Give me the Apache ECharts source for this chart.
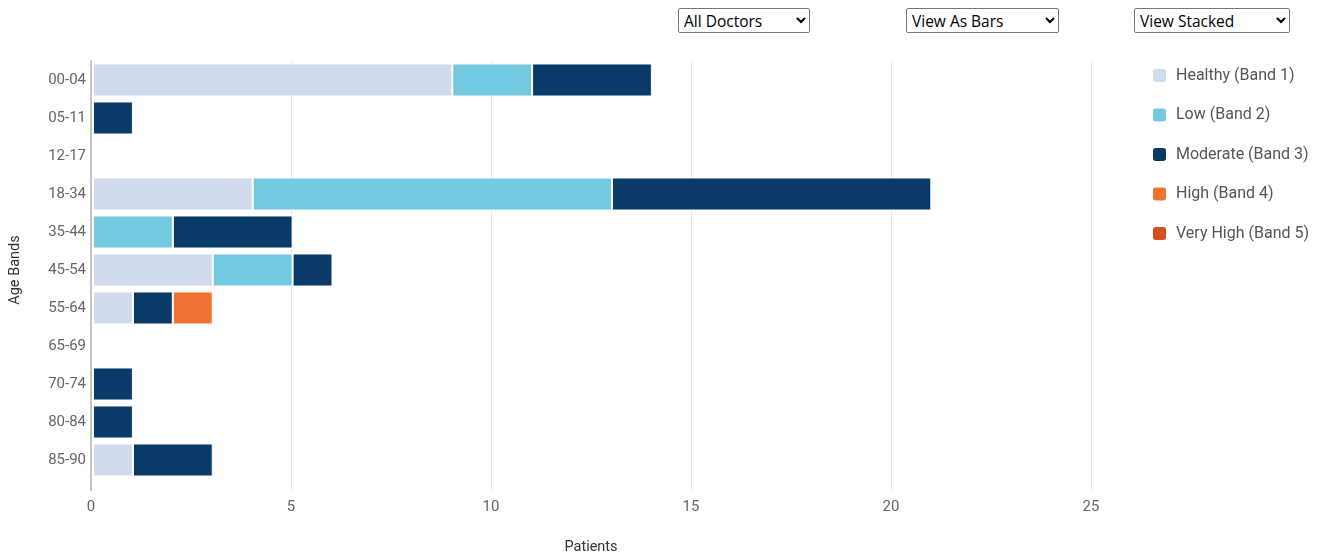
<!DOCTYPE html>
<html>
<head>
<meta charset="utf-8">
<title>Patients by Age Band</title>
<script src="https://cdn.jsdelivr.net/npm/echarts@6/dist/echarts.min.js"></script>
<style>
  html, body { margin: 0; padding: 0; background: #fff; }
  #wrap { position: relative; width: 1327px; height: 560px; }
  #chart { position: absolute; left: 0; top: 0; width: 1327px; height: 560px; }
  select {
    position: absolute; top: 8px; height: 25px;
    font-family: "Open Sans", "DejaVu Sans", sans-serif; font-size: 15.5px; color: #000;
    background: #fff; border: 1px solid #767676; border-radius: 2px; padding: 0 1px;
  }
</style>
</head>
<body>
<div id="wrap">
  <div id="chart"></div>
  <select id="doctor" style="left:678px;width:132px;"><option>All Doctors</option></select>
  <select id="view" style="left:906px;width:153px;"><option>View As Bars</option></select>
  <select id="mode" style="left:1134px;width:156px;"><option>View Stacked</option></select>
</div>
<script>
// Age bands shown top to bottom
const ageBands = ['00-04', '05-11', '12-17', '18-34', '35-44', '45-54', '55-64', '65-69', '70-74', '80-84', '85-90'];

// Patient counts per risk band, one entry per age band
const healthy  = [9, 0, 0, 4, 0, 3, 1, 0, 0, 0, 1];
const low      = [2, 0, 0, 9, 2, 2, 0, 0, 0, 0, 0];
const moderate = [3, 1, 0, 8, 3, 1, 1, 0, 1, 1, 2];
const high     = [0, 0, 0, 0, 0, 0, 1, 0, 0, 0, 0];
const veryHigh = [0, 0, 0, 0, 0, 0, 0, 0, 0, 0, 0];

const bandNames = ['Healthy (Band 1)', 'Low (Band 2)', 'Moderate (Band 3)', 'High (Band 4)', 'Very High (Band 5)'];
const bandColors = ['#d0dcee', '#73cae0', '#0a3a67', '#f17436', '#d4511e'];
const bandValues = [healthy, low, moderate, high, veryHigh];

const xTicks = { min: 0, max: 25, interval: 5 };

const chart = echarts.init(document.getElementById('chart'), null, { renderer: 'canvas' });

const labelColor = '#666666';
const font = 'Roboto, "Noto Sans", sans-serif';

const series = bandNames.map((name, i) => ({
  name: name,
  type: 'bar',
  stack: 'patients',
  xAxisIndex: 1,
  yAxisIndex: 1,
  barCategoryGap: '13%',
  itemStyle: { color: bandColors[i], borderColor: '#ffffff', borderWidth: 1 },
  emphasis: { disabled: true },
  data: bandValues[i].map(v => (v === 0 ? '-' : v))
}));

chart.setOption({
  animation: false,
  textStyle: { fontFamily: font },
  legend: {
    orient: 'vertical',
    left: 1151,
    top: 67,
    padding: 0,
    itemWidth: 15,
    itemHeight: 15,
    itemGap: 22.5,
    icon: 'roundRect',
    textStyle: { color: '#555555', fontSize: 16, lineHeight: 16, fontFamily: font, padding: [0, 0, 0, 4] },
    data: bandNames
  },
  grid: [
    // frame: grid lines and axis line reach a little below the last band
    { left: 91, top: 61, width: 1000, height: 431 },
    // bars
    { left: 91, top: 61, width: 1000, height: 418 }
  ],
  xAxis: [
    {
      gridIndex: 0,
      type: 'value',
      min: xTicks.min, max: xTicks.max, interval: xTicks.interval,
      name: 'Patients',
      nameLocation: 'middle',
      nameGap: 50,
      nameTextStyle: { color: '#333333', fontSize: 14.5, fontFamily: font },
      axisLine: { show: false },
      axisTick: { show: false },
      axisLabel: { color: labelColor, fontSize: 15, margin: 10 },
      splitLine: { show: true, lineStyle: { color: '#e6e6e6', width: 1 } }
    },
    {
      gridIndex: 1,
      type: 'value',
      min: xTicks.min, max: xTicks.max, interval: xTicks.interval,
      show: false
    }
  ],
  yAxis: [
    {
      gridIndex: 0,
      type: 'value',
      axisLine: { show: true, lineStyle: { color: '#c4c4c4', width: 2 } },
      axisTick: { show: false },
      axisLabel: { show: false },
      splitLine: { show: false }
    },
    {
      gridIndex: 1,
      type: 'category',
      inverse: true,
      data: ageBands,
      name: 'Age Bands',
      nameLocation: 'middle',
      nameGap: 70,
      nameTextStyle: { color: '#333333', fontSize: 14.5, fontFamily: font },
      axisLine: { show: false },
      axisTick: { show: false },
      axisLabel: { color: labelColor, fontSize: 15, margin: 7 },
      splitLine: { show: false }
    }
  ],
  series: series
});
</script>
</body>
</html>
